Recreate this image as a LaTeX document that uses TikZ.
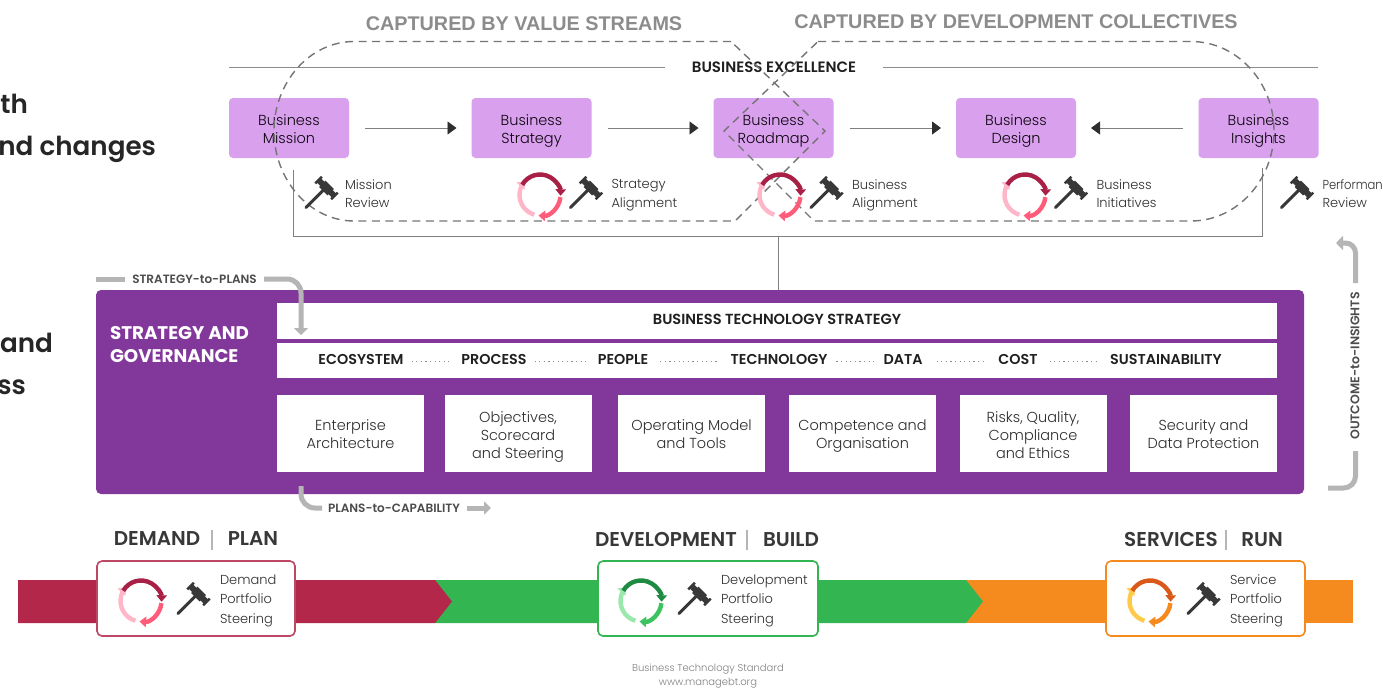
\documentclass[tikz,border=0pt]{standalone}
\usepackage{fontspec}
\setmainfont{Poppins}[UprightFont=* Light,BoldFont=* SemiBold]
\newfontfamily\arialf{Liberation Sans}
\newfontface\boldf{Poppins Bold}
\newfontface\narrowf{Poppins Light}[FakeStretch=0.89]
\usetikzlibrary{arrows.meta,calc}
\definecolor{lilac}{HTML}{D9A0EE}
\definecolor{purp}{HTML}{82379A}
\definecolor{graya}{HTML}{B5B5B5}
\definecolor{grayl}{HTML}{8C8C8C}
\definecolor{dashc}{HTML}{757575}
\definecolor{ink}{HTML}{2E2E2E}
\definecolor{redb}{HTML}{B2274A}
\definecolor{greenb}{HTML}{33B552}
\definecolor{orangeb}{HTML}{F58A1F}
\definecolor{rA}{HTML}{A82045}\definecolor{rB}{HTML}{FF5C7A}\definecolor{rC}{HTML}{FFB6C8}
\definecolor{gA}{HTML}{1E8A42}\definecolor{gB}{HTML}{3CC25F}\definecolor{gC}{HTML}{9BE8AC}
\definecolor{oA}{HTML}{D9581A}\definecolor{oB}{HTML}{F58A1F}\definecolor{oC}{HTML}{FFC94A}
\newcommand{\fs}[2]{\fontsize{#1}{#2}\selectfont}
\newcommand{\topa}{\rule{0pt}{17pt}}
\newcommand{\botz}{\rule[-4.5pt]{0pt}{4.5pt}}
\newcommand{\botc}{\rule[-5.5pt]{0pt}{5.5pt}}
\newcommand{\botd}{\rule[-4pt]{0pt}{4pt}}
\tikzset{
  every node/.style={inner sep=0pt,outer sep=0pt,align=center,text=ink},
  lilacbox/.style={fill=lilac,rounded corners=4pt,minimum width=120pt,minimum height=60pt,font=\fs{14.5}{18.5},text=black!90!purp},
  whitebar/.style={fill=white,minimum width=1000pt},
  capbox/.style={fill=white,minimum width=147pt,minimum height=77pt,font=\fs{14.5}{18}},
  dim/.style={font=\bfseries\fs{14.3}{16},text=black!88},
  flowline/.style={draw=black!50,line width=0.9pt,-{Triangle[length=9pt,width=13pt,color=ink]},shorten <=16pt,shorten >=15pt},
  ruleline/.style={draw=grayl,line width=0.9pt},
  dashshape/.style={draw=dashc,line width=1.4pt,dash pattern=on 8pt off 5.5pt},
  thick gray/.style={draw=graya,line width=5pt},
  flowlabel/.style={font=\bfseries\fs{12}{13},text=black!70},
  smalllabel/.style={font=\fs{13}{18.5},align=left,anchor=north west},
  steerlabel/.style={font=\fs{13}{19.5},align=left,anchor=north west},
  head/.style={font=\bfseries\fs{20}{22},text=black!78},
  steerbox/.style={fill=white,draw=#1,line width=1.6pt,rounded corners=5pt},
  gavelline/.style={draw=black!78,line width=3pt,line cap=round},
  dotrow/.style={draw=black!45,line width=0.9pt,dash pattern=on 1.2pt off 3.4pt},
  cyc/.style={draw=#1,line width=4.4pt,-{Triangle[length=6.5pt,width=10.5pt]}},
  bigleft/.style={font=\bfseries\fs{26.2}{30},text=black!85},
}
\newcommand{\gavel}[2]{%
  \begin{scope}[shift={(#1,#2)},y=1pt]
    \draw[gavelline] (-14.5,-14.5) -- (4,4);
    \begin{scope}[rotate around={-45:(6,5)}]
    \fill[black!78] (0,0.5) rectangle (12,9.5);
    \fill[black!78] (-5,2) rectangle (17,8);
    \fill[black!78] (-6.5,0.3) rectangle (-4,9.7);
    \fill[black!78] (16,0.3) rectangle (18.5,9.7);
    \end{scope}
  \end{scope}}
\newcommand{\cycle}[5]{%
  \begin{scope}[shift={(#1,#2)},y=1pt]
    \draw[cyc=#5] (-106:20.5) arc[start angle=-106,end angle=-222,radius=20.5pt];
    \draw[cyc=#4] (-6:20.5) arc[start angle=-6,end angle=-94,radius=20.5pt];
    \draw[cyc=#3] (150:20.5) arc[start angle=150,end angle=-2,radius=20.5pt];
  \end{scope}}
\begin{document}
\begin{tikzpicture}[x=1pt,y=-1pt]
\useasboundingbox (0,0) rectangle (1383,689);
\fill[white] (0,0) rectangle (1383,689);

% clipped left headings
\node[bigleft,anchor=base west] (t1) at (0.5,113) {th};
\node[bigleft,anchor=base east] (t2) at (156,155) {nd changes};
\node[bigleft,anchor=base east] (t3) at (53,352) {and};
\node[bigleft,anchor=base east] (t4) at (26,394) {ss};

% titles
\node[font=\arialf\bfseries\fs{19.8}{22},text=grayl] (capa) at (524,24) {CAPTURED BY VALUE STREAMS};
\node[font=\arialf\bfseries\fs{19.8}{22},text=grayl] (capb) at (1016,22) {CAPTURED BY DEVELOPMENT COLLECTIVES};

% business excellence
\coordinate (rla) at (229,67);
\coordinate (rlb) at (665,67);
\coordinate (rlc) at (883,67);
\coordinate (rld) at (1318,67);
\draw[ruleline] (rla) -- (rlb);
\draw[ruleline] (rlc) -- (rld);
\node[dim,font=\bfseries\fs{15}{16}] (bx) at (774,67) {BUSINESS EXCELLENCE};

% boxes
\node[lilacbox] (bm) at (289,128) {\topa Business\\Mission\botz};
\node[lilacbox] (bs) at (531.5,128) {\topa Business\\Strategy\botz};
\node[lilacbox] (br) at (773.5,128) {\topa Business\\Roadmap\botz};
\node[lilacbox] (bd) at (1016,128) {\topa Business\\Design\botz};
\node[lilacbox] (bi) at (1258.5,128) {\topa Business\\Insights\botz};
\draw[flowline] (bm.east) -- (bs.west);
\draw[flowline] (bs.east) -- (br.west);
\draw[flowline] (br.east) -- (bd.west);
\draw[flowline] (bi.west) -- (bd.east);

% bracket
\coordinate (ba) at (293,170);
\coordinate (bb) at (293,236);
\coordinate (bc) at (1262,236);
\coordinate (bd2) at (1262,168);
\coordinate (bst) at (778,236);
\draw[draw=black!50,line width=1pt] (ba) -- (bb) -- (bc) -- (bd2);

% dashed shapes
\draw[dashshape] (731,41.5) -- (354,41.5) .. controls (310,41.5) and (274,82) .. (274,131) .. controls (274,180) and (310,221) .. (354,221) -- (735,221) -- (825,131) -- cycle;
\draw[dashshape] (818,41.5) -- (1191,41.5) .. controls (1237,41.5) and (1274,82) .. (1274,131) .. controls (1274,180) and (1237,221) .. (1191,221) -- (814,221) -- (724,131) -- cycle;

% icons upper
\gavel{320.5}{193}
\gavel{585}{193}
\gavel{825.5}{193}
\gavel{1070}{193}
\gavel{1296}{193}
\cycle{540}{195}{rA}{rB}{rC}
\cycle{780}{195}{rA}{rB}{rC}
\cycle{1025}{195}{rA}{rB}{rC}
\node[smalllabel] (l1) at (345,179.5) {Mission\\Review};
\node[smalllabel] (l2) at (611.5,179.5) {Strategy\\Alignment};
\node[smalllabel] (l3) at (852,179.5) {Business\\Alignment};
\node[smalllabel] (l4) at (1096.5,179.5) {Business\\Initiatives};
\node[smalllabel] (l5) at (1322.5,179.5) {{\narrowf Performan}\\Review};

% panel
\node[fill=purp,rounded corners=5pt,minimum width=1208pt,minimum height=204pt] (panel) at (700,392) {};
\draw[draw=black!50,line width=1pt] (bst) -- (bst |- panel.north);
\node[font=\boldf\fs{18.3}{23},text=white,align=left,anchor=north west] (sg) at (110,318.5) {\rule{0pt}{21pt}STRATEGY AND\\GOVERNANCE};
\node[whitebar,minimum height=36pt] (bts) at (777,321) {};
\node[font=\bfseries\fs{14.6}{16},text=black!88] (btst) at (777,319) {BUSINESS TECHNOLOGY STRATEGY};
\node[whitebar,minimum height=35pt] (dimbar) at (777,360.5) {};
\node[dim] (d1) at (361,359) {ECOSYSTEM};
\node[dim] (d2) at (494,359) {PROCESS};
\node[dim] (d3) at (623,359) {PEOPLE};
\node[dim] (d4) at (779,359) {TECHNOLOGY};
\node[dim] (d5) at (903,359) {DATA};
\node[dim] (d6) at (1018,359) {COST};
\node[dim] (d7) at (1166,359) {SUSTAINABILITY};
\draw[dotrow] ($(d1.east)+(8,2)$) -- ($(d2.west)+(-12,2)$);
\draw[dotrow] ($(d2.east)+(8,2)$) -- ($(d3.west)+(-11,2)$);
\draw[dotrow] ($(d3.east)+(12,2)$) -- ($(d4.west)+(-13,2)$);
\draw[dotrow] ($(d4.east)+(9,2)$) -- ($(d5.west)+(-9,2)$);
\draw[dotrow] ($(d5.east)+(14,2)$) -- ($(d6.west)+(-12,2)$);
\draw[dotrow] ($(d6.east)+(12,2)$) -- ($(d7.west)+(-10,2)$);
\node[capbox] (c1) at (350.5,433.5) {\topa Enterprise\\Architecture\botc};
\node[capbox] (c2) at (518,433.5) {\topa Objectives,\\Scorecard\\and Steering\botd};
\node[capbox] (c3) at (691.5,433.5) {\topa Operating Model\\and Tools\botc};
\node[capbox] (c4) at (862.5,433.5) {\topa Competence and\\Organisation\botc};
\node[capbox] (c5) at (1033,433.5) {\topa Risks, Quality,\\Compliance\\and Ethics\botd};
\node[capbox] (c6) at (1203.5,433.5) {\topa Security and\\Data Protection\botc};

% gray flows
\node[flowlabel] (stp) at (194.5,279) {STRATEGY-to-PLANS};
\coordinate (sa) at (96,279);
\coordinate (sb) at (125,279);
\coordinate (sc) at (264,279);
\coordinate (sd) at (301,335);
\draw[thick gray] (sa) -- (sb);
\draw[thick gray,rounded corners=14pt,-{Triangle[length=7pt,width=14pt]}] (sc) -- (301,279) -- (sd);
\node[flowlabel] (ptc) at (394,508) {PLANS-to-CAPABILITY};
\coordinate (pa) at (301,486);
\coordinate (pb) at (322,508);
\coordinate (pc) at (467,508);
\coordinate (pd) at (491,508);
\draw[thick gray,rounded corners=14pt] (pa) -- (301,508) -- (pb);
\draw[thick gray,-{Triangle[length=7pt,width=13pt]}] (pc) -- (pd);
\node[flowlabel,font=\bfseries\fs{12.5}{13},rotate=90] (oti) at (1355,366) {OUTCOME-to-INSIGHTS};
\coordinate (oa) at (1328,488);
\coordinate (ob) at (1355.5,451);
\coordinate (oc) at (1355.5,283);
\coordinate (od) at (1336,243);
\draw[thick gray,rounded corners=12pt] (oa) -- (1355.5,488) -- (ob);
\draw[thick gray,rounded corners=10pt,-{Triangle[length=7pt,width=14pt]}] (oc) -- (1355.5,243) -- (od);

% value bands
\fill[orangeb] (966,580) rectangle (1353,623);
\fill[greenb] (435,580) -- (966,580) -- (983,601.5) -- (966,623) -- (435,623) -- cycle;
\fill[redb] (18,580) -- (435,580) -- (452,601.5) -- (435,623) -- (18,623) -- cycle;

\node[head] (h1) at (157,538.5) {DEMAND};
\node[head] (h2) at (253,538.5) {PLAN};
\node[head] (h3) at (666,539.5) {DEVELOPMENT};
\node[head] (h4) at (791,539.5) {BUILD};
\node[head] (h5) at (1171,539.5) {SERVICES};
\node[head] (h6) at (1262,539.5) {RUN};
\coordinate (s1a) at (212,530); \coordinate (s1b) at (212,550);
\coordinate (s2a) at (747,530); \coordinate (s2b) at (747,550);
\coordinate (s3a) at (1226,530); \coordinate (s3b) at (1226,550);
\draw[draw=graya,line width=1.2pt] (s1a) -- (s1b);
\draw[draw=graya,line width=1.2pt] (s2a) -- (s2b);
\draw[draw=graya,line width=1.2pt] (s3a) -- (s3b);

\node[steerbox=redb!85!white,minimum width=198pt,minimum height=75pt] (sb1) at (196,598.5) {};
\node[steerbox=greenb,minimum width=220pt,minimum height=75pt] (sb2) at (708,598.5) {};
\node[steerbox=orangeb,minimum width=199pt,minimum height=75pt] (sb3) at (1205.5,598.5) {};
\gavel{192.5}{599}
\gavel{693.5}{599}
\gavel{1202.5}{599}
\cycle{141}{601}{rA}{rB}{rC}
\cycle{641}{601}{gA}{gB}{gC}
\cycle{1150}{601}{oA}{oB}{oC}
\node[steerlabel] (s1) at (220,574.5) {Demand\\Portfolio\\Steering};
\node[steerlabel] (s2) at (721,574.5) {Development\\Portfolio\\Steering};
\node[steerlabel] (s3) at (1230,574.5) {Service\\Portfolio\\Steering};

\node[font=\fs{10}{14},text=black!50] (ft) at (708,676) {Business Technology Standard\\www.managebt.org};
\end{tikzpicture}
\end{document}
